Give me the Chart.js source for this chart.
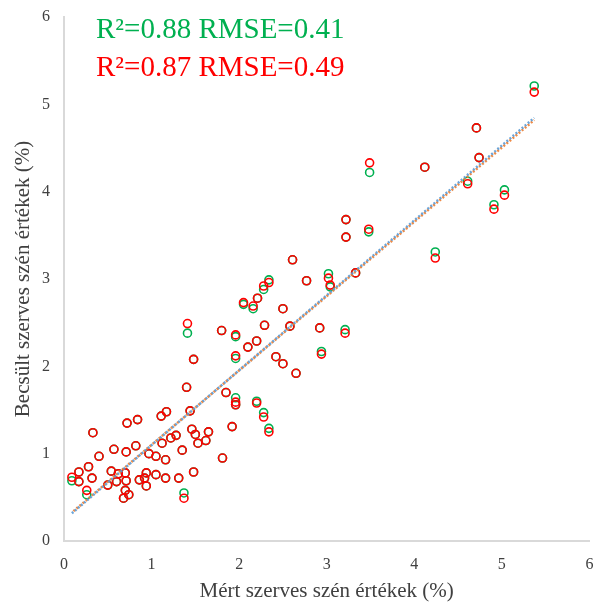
<!DOCTYPE html>
<html>
<head>
<meta charset="utf-8">
<script src="https://cdn.jsdelivr.net/npm/chart.js@4.4.1/dist/chart.umd.min.js"></script>
<style>
  html, body { margin: 0; padding: 0; background: #fff; }
  #wrap { width: 595px; height: 607px; }
</style>
</head>
<body>
<div id="wrap"><canvas id="scatterChart" width="595" height="607"></canvas></div>
<script>
// measured organic carbon (%) and the two model estimates
const measured = [5.37,4.71,4.74,4.12,4.61,5.03,4.91,4.24,3.49,3.48,
    3.22,3.22,3.33,3.02,3.04,2.61,2.77,2.34,2.28,2.21,
    2.16,2.05,2.5,2.29,2.58,2.92,3.21,2.2,2.1,1.96,
    1.8,1.41,1.48,1.96,2.42,2.5,2.65,2.94,1.4,1.85,
    1.96,1.96,2.2,2.28,2.34,1.92,1.65,1.62,1.53,1.81,
    1.48,1.37,1.44,1.17,1.11,0.84,0.72,0.33,1.12,1.22,
    1.28,1.46,1.5,1.35,0.57,0.4,0.71,0.82,0.97,1.05,
    1.16,0.28,0.17,0.09,0.32,0.17,0.54,0.62,0.7,0.6,
    0.71,0.5,0.86,0.92,0.94,1.05,1.16,1.31,0.94,0.26,
    0.7,0.74,0.68];
const estGreen = [5.21,4.73,4.39,4.28,4.12,4.02,3.85,3.31,4.22,3.54,
    3.68,3.48,3.07,3.06,2.91,3.22,2.98,2.99,2.88,2.78,
    2.66,2.71,2.66,2.47,2.46,2.44,2.42,2.29,2.22,2.34,
    2.41,2.38,2.08,2.09,2.11,2.03,1.92,2.17,1.76,1.7,
    1.64,1.56,1.6,1.47,1.29,1.31,1.25,1.15,1.12,0.95,
    0.79,0.55,1.49,1.48,1.43,1.39,1.35,1.24,1.12,1.18,
    1.21,1.28,1.22,1.04,1.05,0.97,1.02,1.09,1.0,0.97,
    0.93,0.85,0.79,0.69,0.72,0.68,0.8,0.77,0.78,0.68,
    0.69,0.64,0.7,0.72,0.78,0.76,0.72,0.72,0.63,0.53,
    0.58,0.53,0.49];
const estRed = [5.14,4.73,4.39,4.28,4.09,3.96,3.80,3.24,4.33,3.57,
    3.68,3.48,3.07,3.01,2.93,3.22,2.98,2.96,2.92,2.78,
    2.69,2.73,2.66,2.47,2.46,2.44,2.38,2.29,2.22,2.36,
    2.41,2.49,2.08,2.12,2.11,2.03,1.92,2.14,1.76,1.7,
    1.59,1.56,1.58,1.42,1.25,1.31,1.25,1.15,1.12,0.95,
    0.79,0.49,1.49,1.48,1.43,1.39,1.35,1.24,1.12,1.18,
    1.21,1.28,1.22,1.04,1.05,0.97,1.02,1.09,1.0,0.97,
    0.93,0.85,0.79,0.73,0.72,0.68,0.8,0.77,0.78,0.68,
    0.69,0.64,0.7,0.72,0.78,0.76,0.72,0.72,0.63,0.58,
    0.58,0.53,0.49];
const statLines = ['R\u00B2=0.88 RMSE=0.41', 'R\u00B2=0.87 RMSE=0.49'];

const GREEN = '#00b050';
const RED = '#ff0000';
const SERIF = '"Liberation Serif", "Times New Roman", serif';

function toPoints(xs, ys) {
    return xs.map((x, i) => ({ x: x, y: ys[i] }));
}

// least squares trend line, drawn from smallest to largest measured value
function trend(xs, ys) {
    const n = xs.length;
    const mx = xs.reduce((a, b) => a + b, 0) / n;
    const my = ys.reduce((a, b) => a + b, 0) / n;
    let sxy = 0, sxx = 0;
    for (let i = 0; i < n; i++) {
        sxy += (xs[i] - mx) * (ys[i] - my);
        sxx += (xs[i] - mx) * (xs[i] - mx);
    }
    const b = sxy / sxx;
    const a = my - b * mx;
    const x0 = Math.min(...xs), x1 = Math.max(...xs);
    return [{ x: x0, y: a + b * x0 }, { x: x1, y: a + b * x1 }];
}

const statsText = {
    id: 'statsText',
    afterDraw(chart) {
        const ctx = chart.ctx;
        const left = chart.chartArea.left + 32;
        ctx.save();
        ctx.font = '29px ' + SERIF;
        ctx.textBaseline = 'alphabetic';
        ctx.fillStyle = GREEN;
        ctx.fillText(statLines[0], left, 38);
        ctx.fillStyle = RED;
        ctx.fillText(statLines[1], left, 76);
        ctx.restore();
    }
};

const ctx = document.getElementById('scatterChart').getContext('2d');
new Chart(ctx, {
    type: 'scatter',
    data: {
        datasets: [
            {
                label: 'green trend',
                type: 'line',
                data: trend(measured, estGreen),
                borderColor: 'rgba(91,155,213,0.9)',
                borderWidth: 2.5,
                borderDash: [2, 2],
                pointRadius: 0,
                fill: false,
                order: 0
            },
            {
                label: 'red trend',
                type: 'line',
                data: trend(measured, estRed),
                borderColor: 'rgba(237,125,49,0.9)',
                borderWidth: 2.5,
                borderDash: [2, 2],
                borderDashOffset: 2,
                pointRadius: 0,
                fill: false,
                order: 1
            },
            {
                label: 'green',
                data: toPoints(measured, estGreen),
                borderColor: GREEN,
                backgroundColor: 'transparent',
                borderWidth: 1.6,
                pointRadius: 4,
                order: 3
            },
            {
                label: 'red',
                data: toPoints(measured, estRed),
                borderColor: RED,
                backgroundColor: 'transparent',
                borderWidth: 1.6,
                pointRadius: 4,
                order: 2
            }
        ]
    },
    options: {
        responsive: false,
        animation: false,
        layout: { padding: { top: 17, right: 5, left: 0, bottom: 0 } },
        plugins: {
            legend: { display: false },
            tooltip: { enabled: false }
        },
        scales: {
            x: {
                min: 0, max: 6,
                afterFit: s => { s.height = 66; s.paddingLeft = 0; s.paddingRight = 0; },
                grid: { display: false, drawTicks: false },
                border: { display: true, color: '#d9d9d9', width: 2 },
                ticks: {
                    stepSize: 1,
                    padding: 14,
                    color: '#404040',
                    font: { family: SERIF, size: 16 }
                },
                title: {
                    display: true,
                    text: 'Mért szerves szén értékek (%)',
                    color: '#404040',
                    font: { family: SERIF, size: 21 },
                    padding: { top: 2, bottom: 3 }
                }
            },
            y: {
                min: 0, max: 6,
                afterFit: s => { s.width = 64; s.paddingTop = 0; s.paddingBottom = 0; },
                grid: { display: false, drawTicks: false },
                border: { display: true, color: '#d9d9d9', width: 2 },
                ticks: {
                    stepSize: 1,
                    padding: 14,
                    color: '#404040',
                    font: { family: SERIF, size: 16 }
                },
                title: {
                    display: true,
                    text: 'Becsült szerves szén értékek (%)',
                    color: '#404040',
                    font: { family: SERIF, size: 21 },
                    padding: { top: 11, bottom: 0 }
                }
            }
        }
    },
    plugins: [statsText]
});
</script>
</body>
</html>
